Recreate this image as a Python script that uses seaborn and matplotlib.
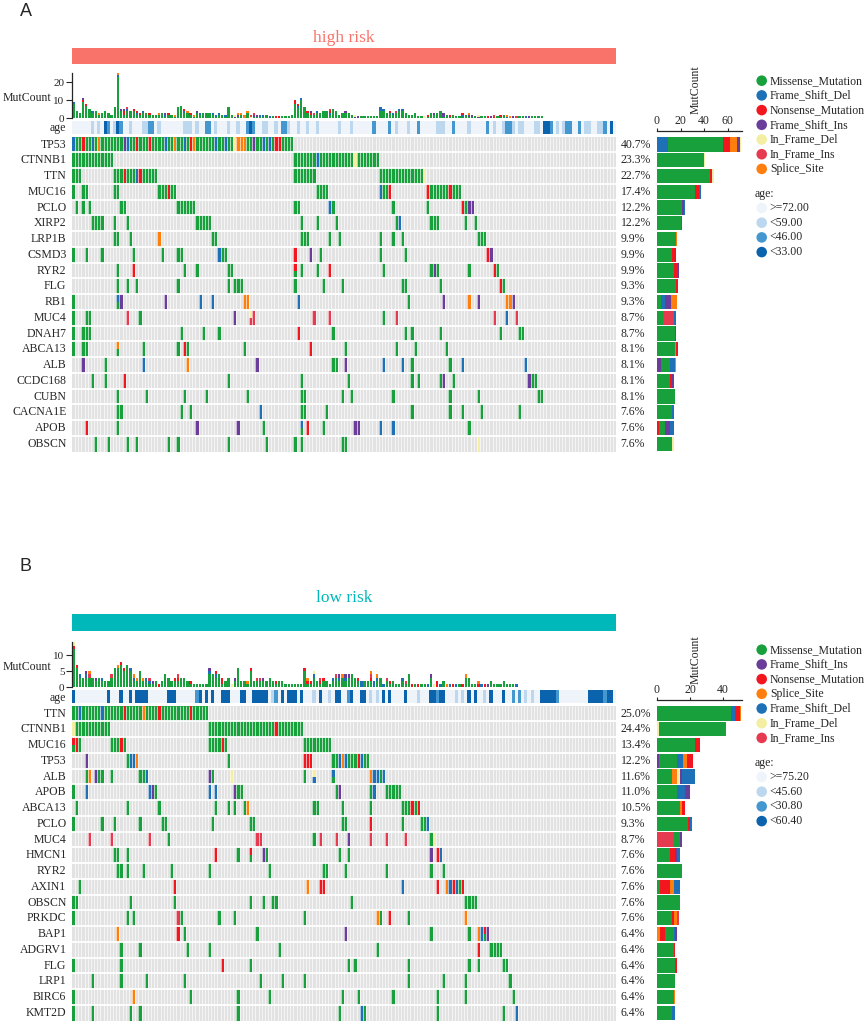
import numpy as np
import matplotlib
matplotlib.use('Agg')
import matplotlib.pyplot as plt
from matplotlib.colors import ListedColormap
from matplotlib.patches import Rectangle
import seaborn as sns

W, H = 865, 1021
N_SAMPLES = 172

# mutation type codes used in the cell strings below
TYPE_NAMES = {'M': 'Missense_Mutation', 'D': 'Frame_Shift_Del', 'N': 'Nonsense_Mutation',
              'I': 'Frame_Shift_Ins', 'd': 'In_Frame_Del', 'i': 'In_Frame_Ins', 'S': 'Splice_Site'}
TYPE_COLORS = {'M': '#18a03c', 'D': '#1f71b7', 'N': '#f2161f', 'I': '#6a3d9a',
               'd': '#f3eea1', 'i': '#e63a50', 'S': '#ff7f0e'}
TYPE_ORDER = 'MDNIdiS'
GRAY = '#e2e2e2'
AGE_COLORS = ['#eef4fa', '#bdd7ee', '#4597d0', '#0b63ad']

# ---------------- high risk ----------------
HR_GENES = ['TP53', 'CTNNB1', 'TTN', 'MUC16', 'PCLO', 'XIRP2', 'LRP1B', 'CSMD3', 'RYR2', 'FLG',
            'RB1', 'MUC4', 'DNAH7', 'ABCA13', 'ALB', 'CCDC168', 'CUBN', 'CACNA1E', 'APOB', 'OBSCN']
# "a-b" = missense range, "12N" = sample 12 of that type, "14DM" = split cell (top/bottom)
HR_CELLS = [
    '0-69 0D 3N 6D 8S 16I 17D 20N 24N 29D 32S 35D 37N 38S 45D 48D 51d 52S 53S 54S 57I 60D 62D 64N 65N',
    '0-12 70-96 77D 89d',
    '0-2 13-26 70-76 97-111 16N 20D 21N 111d',
    '0 3-4 13-14 27-32 77-80 97-100 112-122 30N 97D 100N 112N 119N',
    '1 3 5 15-16 33-38 70-71 81-82 101 112 123-126 81D 123N 125I 126I',
    '6-9 13 17 39-43 72 77 83 102-103 113-115 124 127 103D',
    '13-14 18 27S 44-45 72-74 81 84 97 101 104 128-130',
    '0 4 9 19 28 33-34 46-48 70N 75I 78 97 105 131N 132I 46D',
    '14 19N 35 39 49-50 70NM 72 77 81N 98 113-115 114I 125 133N 134',
    '14 17 20 33 49 51-53 70 79 85 104-105 116 135N 136',
    '0 14DM 15I 29I 40D 44D 54S 55S 71D 106 117I 125S 128I 137S 138S 139I',
    '0 4-5 17i 21 51I 56di 57i 76i 81i 98 102i 133i 137D 140i',
    '0 3-5 34 41 46 71N 82 105 107 116 135 141-142',
    '0 3-4 14SM 22 33 35N 36 54 75N 86 102 108 118',
    '3I 10 22D 36S 58I 82-83 86I 98D 104D 107 119 123D 143D',
    '6 10 16N 49 72 87 107 109 116 117I 120 144I 145-146',
    '14 23 35 42 55 72-73 85 88 101 119 128 147-148',
    '14-15 34 37 59D 72-73 80 107 119 123 129 141',
    '4N 14 39I 52I 60 72DM 74N 79 89I 90I 97D 101D 125',
    '7 11 17 20 30 33 49 61 70 72 85-86 128d',
]
HR_GENE_BARS = ['D9 M47 N6 S6 I2 d1', 'M40 d1', 'M45 N2 d1', 'M32 N4 D1', 'M21 I2 D1',
                'M20 D1', 'M16 S1', 'M13 N2 I1', 'M14 N4 I1', 'M16 N2',
                'M3 D4 I5 S5', 'M5 i9 D2', 'M15 N1', 'M15 S1 N2', 'I3 M8 D4 S1',
                'M11 N2 I1', 'M15', 'M13 D1', 'N2 M5 I4 D3', 'M13 d1']
HR_MUTCOUNT = [9, 4, 3, 11, 8, 5, 4, 4, 3, 3,
               4, 3, 2, 6, 25, 5, 5, 6, 4, 5,
               4, 3, 4, 3, 3, 2, 2, 3, 3, 3,
               3, 2, 2, 6, 7, 5, 4, 3, 2, 4,
               3, 3, 3, 3, 3, 2, 3, 2, 2, 6,
               2, 2, 3, 3, 2, 4, 2, 3, 2, 2,
               2, 2, 1, 1, 1, 1, 1, 1, 1, 2,
               10, 8, 11, 6, 4, 4, 3, 4, 3, 4,
               4, 5, 5, 4, 2, 3, 4, 3, 2, 2,
               1, 1, 1, 1, 1, 1, 1, 6, 5, 3,
               4, 3, 4, 5, 5, 3, 2, 2, 3, 1,
               1, 1, 2, 3, 3, 3, 4, 3, 2, 2,
               2, 1, 1, 3, 2, 3, 2, 1, 2, 1,
               1, 1, 1, 2, 1, 2, 2, 1, 1, 1,
               1, 1, 1, 1, 1, 1, 1, 1, 1]
HR_AGE_LIGHT = [6, 8, 13, 18, 22, 23, 27, 35, 36, 37, 39, 45, 49, 52, 60, 61, 64, 68, 71, 74, 77,
                84, 88, 102, 106, 115, 116, 117, 125, 133, 136, 139, 141, 142, 146, 147, 153, 155,
                162, 163, 166, 167]
HR_AGE_MID = [11, 15, 24, 25, 42, 43, 55, 57, 66, 67, 95, 100, 109, 120, 131, 137, 138, 151,
              156, 157, 160, 168]
HR_AGE_DARK = [10, 14, 56, 149, 150, 170]
HR_AGE_LABELS = ['>=72.00', '<59.00', '<46.00', '<33.00']
HR_LEGEND = 'MDNIdiS'

# ---------------- low risk ----------------
LR_GENES = ['TTN', 'CTNNB1', 'MUC16', 'TP53', 'ALB', 'APOB', 'ABCA13', 'PCLO', 'MUC4', 'HMCN1',
            'RYR2', 'AXIN1', 'OBSCN', 'PRKDC', 'BAP1', 'ADGRV1', 'FLG', 'LRP1', 'BIRC6', 'KMT2D']
LR_CELLS = [
    '0-42 2D 9D 16N 22S 27N 37N',
    '0-11 43-72 0d 64N',
    '0-2 12-16 43-48 73-81 0NM 1N 15N 47N',
    '4I 17 18D 19D 20S 49 73N 74N 75N 82-93 84D 85S 86D 90N 91D',
    '4 5S 7I 8 9 12 21 22 23D 43I 44 50d 73 76dD 82DM 94S 95D 96D 97 98D',
    '0 4D 24D 25I 26 43D 45D 51I 52-53 83 84I 94 95D 99-103',
    '1 17 27 45 49 51 54 55S 76-77 85 94 104-109 107N 109N',
    '0 9 13 21 28-29 44 56-57 85-86 94N 104 110-111 112D',
    '5i 12i 24i 30 58i 59i 76 78i 83i 87I 94i 99i 105i 113 114d',
    '13-14 17 45N 52 56NM 60I 61 84 87 113I 115N 116D',
    '14-15 17 22 31 43 62 79-80 86 99 113 117',
    '2 32N 74S 78N 79N 104D 115N 118S 119D 120N 121D 122 123N',
    '0-1 18 32 56 60 63-64 88 124-127',
    '0 17 19 33i 34 46 51 73 96S 97 100N 106 124S',
    '14S 33N 35 58 86I 113 125 128S 129D 130NM 131I',
    '15 21 36 43 65 96 128N 132-135',
    '0 15 47N 56 87 89 106 125 128 136-137',
    '6 15 23 35 59 66 73 106 117 124 138',
    '0 19S 37 52 62 85 90 101 115 124 139',
    '0 6 18 21 52 84 91D 92 115 136 140D',
]
LR_GENE_BARS = ['M45 D2 N3 S1', 'd1 M40 i1', 'M23 N3', 'I1 M11 D4 S2 N4', 'M9 S3 d2 I1 D8',
                'M12 D5 I3', 'M14 S1 N2', 'M19 N1 D1', 'i10 M4 I1', 'M8 N3 I1 D2',
                'M15', 'M2 N6 S2 D4', 'M14', 'M9 N1 S2 i1', 'S2 N3 M5 D1 I1',
                'M10 N1', 'M11 N1', 'M11', 'M10 S1', 'M9 D2']
LR_MUTCOUNT = [14, 7, 4, 3, 5, 5, 3, 3, 3, 3,
               2, 2, 4, 6, 7, 8, 6, 7, 6, 4,
               3, 5, 3, 3, 3, 2, 2, 1, 2, 4,
               3, 2, 3, 4, 3, 3, 2, 2, 1, 1,
               1, 1, 1, 6, 4, 5, 4, 3, 2, 3,
               1, 3, 6, 2, 2, 2, 6, 2, 3, 3,
               3, 2, 3, 2, 2, 2, 2, 1, 1, 1,
               1, 1, 1, 6, 3, 2, 5, 2, 3, 3,
               2, 1, 3, 4, 4, 4, 4, 4, 4, 3,
               3, 2, 2, 2, 5, 2, 4, 3, 1, 3,
               2, 2, 1, 1, 3, 2, 4, 1, 1, 1,
               1, 1, 1, 4, 1, 2, 1, 2, 1, 1,
               1, 1, 1, 1, 4, 3, 1, 1, 2, 1,
               1, 1, 2, 1, 1, 1, 2, 1, 1, 1,
               1]
LR_AGE_LIGHT = [63, 76, 81, 94, 96, 109, 121, 123, 130, 143, 145]
LR_AGE_MID = [39, 64, 87, 115, 139, 141, 153, 168]
LR_AGE_DARK = [0, 11, 15, 18, 20, 21, 22, 23, 30, 31, 32, 40, 42, 44, 47, 48, 49, 53, 54, 57,
               58, 59, 60, 61, 66, 68, 69, 70, 72, 78, 83, 84, 88, 91, 92, 98, 100, 105, 113,
               114, 116, 117, 125, 127, 132, 136, 148, 149, 150, 151, 152, 163, 164, 165, 166,
               167, 169, 170]
LR_AGE_LABELS = ['>=75.20', '<45.60', '<30.80', '<60.40']
LR_LEGEND = 'MINSDdi'


def parse_cells(spec):
    cells = {}
    for tok in spec.split():
        if '-' in tok:
            a, b = tok.split('-')
            for c in range(int(a), int(b) + 1):
                cells[c] = 'M'
        else:
            num = ''.join(ch for ch in tok if ch.isdigit())
            cells[int(num)] = tok[len(num):] or 'M'
    return cells


def box(x0, y0, x1, y1):
    return [x0 / W, 1 - y1 / H, (x1 - x0) / W, (y1 - y0) / H]


sns.set_style('white')
plt.rcParams['font.family'] = ['Liberation Serif', 'DejaVu Serif']
FS = 8.5

fig = plt.figure(figsize=(W / 100, H / 100), dpi=100)
ov = fig.add_axes([0, 0, 1, 1], zorder=10)
ov.set_xlim(0, W)
ov.set_ylim(H, 0)
ov.axis('off')

type_cmap = ListedColormap([GRAY] + [TYPE_COLORS[t] for t in TYPE_ORDER])
age_cmap = ListedColormap(AGE_COLORS)


def draw_panel(dy, letter_y, title_y, bar_y, letter, title, title_color, genes, cells_spec,
               gene_bars, mutcount, age_groups, age_labels, legend, bar_xmax, bar_ticks,
               count_ticks):
    parsed = [parse_cells(s) for s in cells_spec]
    n_genes = len(genes)

    # letter, title and coloured group bar
    ov.text(25.5, letter_y, letter, fontsize=13, family='Liberation Sans', ha='center', va='center')
    ov.add_patch(Rectangle((72, bar_y), 544, 16.5, color=title_color, lw=0))
    ov.text(344, title_y, title, ha='center', va='baseline', fontsize=12.5, color=title_color)

    # top MutCount stacked bars
    total = np.zeros(N_SAMPLES)
    total[:len(mutcount)] = mutcount
    others = {t: np.zeros(N_SAMPLES) for t in TYPE_ORDER[1:]}
    for cells in parsed:
        for c, letters in cells.items():
            for ch in letters:
                if ch != 'M':
                    others[ch][c] += 1
    other_sum = sum(others.values())
    miss = np.clip(total - other_sum, 0, None)
    x = np.arange(N_SAMPLES) + 0.5
    ax_c = fig.add_axes(box(72, 73.3 + dy, 616, 118.3 + dy))
    ax_c.bar(x, miss, width=0.72, color=TYPE_COLORS['M'], lw=0)
    bottom = miss.copy()
    for t in TYPE_ORDER[1:]:
        ax_c.bar(x, others[t], bottom=bottom, width=0.72, color=TYPE_COLORS[t], lw=0)
        bottom += others[t]
    ax_c.set_xlim(0, N_SAMPLES)
    ax_c.set_ylim(0, max(mutcount))
    ax_c.set_xticks([])
    ax_c.set_yticks(count_ticks)
    ax_c.tick_params(axis='y', labelsize=8, length=4, width=0.8, pad=1.5, left=True)
    sns.despine(ax=ax_c, bottom=True)
    ax_c.spines['left'].set_linewidth(0.9)
    ov.text(51, 98.3 + dy, 'MutCount', ha='right', va='center', fontsize=FS)

    # age row
    age = np.zeros(N_SAMPLES, dtype=int)
    for k, idx in enumerate(age_groups, start=1):
        age[idx] = k
    ax_a = fig.add_axes(box(72, 120.7 + dy, 616, 134.0 + dy))
    sns.heatmap(age.reshape(1, -1), ax=ax_a, cmap=age_cmap, vmin=-0.5, vmax=3.5, cbar=False,
                xticklabels=False, yticklabels=False)
    ov.text(66.5, 128.5 + dy, 'age', ha='right', va='center', fontsize=FS)

    # oncoprint matrix
    codes = np.zeros((n_genes, N_SAMPLES))
    ax_m = fig.add_axes(box(72, 136.7 + dy, 616, 451.7 + dy))
    for r, cells in enumerate(parsed):
        for c, letters in cells.items():
            codes[r, c] = TYPE_ORDER.index(letters[-1]) + 1
    sns.heatmap(codes, ax=ax_m, cmap=type_cmap, vmin=-0.5, vmax=7.5, cbar=False,
                xticklabels=False, yticklabels=genes)
    for r, cells in enumerate(parsed):
        for c, letters in cells.items():
            if len(letters) == 2:
                ax_m.add_patch(Rectangle((c, r), 1, 0.5, color=TYPE_COLORS[letters[0]], lw=0))
    ax_m.vlines(np.arange(1, N_SAMPLES), 0, n_genes, color='white', lw=0.45)
    ax_m.hlines(np.arange(1, n_genes), 0, N_SAMPLES, color='white', lw=1.3)
    ax_m.set_xlim(0, N_SAMPLES)
    ax_m.set_ylim(n_genes, 0)
    ax_m.set_yticks(np.arange(n_genes) + 0.5)
    ax_m.set_yticklabels(genes, rotation=0, fontsize=FS)
    ax_m.tick_params(axis='y', length=0, pad=4)
    for r, cells in enumerate(parsed):
        pct = f'{len(cells) / N_SAMPLES * 100:.1f}%'
        ax_m.text(N_SAMPLES + 1.45, r + 0.5, pct, ha='left', va='center', fontsize=FS,
                  clip_on=False)

    # right side bars per gene
    ax_g = fig.add_axes(box(657, 136.7 + dy, 741.7, 451.7 + dy))
    for r, spec in enumerate(gene_bars):
        left = 0
        for tok in spec.split():
            t, n = tok[0], int(tok[1:])
            ax_g.barh(r + 0.5, n, left=left, height=0.9, color=TYPE_COLORS[t], lw=0)
            left += n
    ax_g.set_ylim(n_genes, 0)
    ax_g.set_xlim(0, bar_xmax)
    ax_g.set_yticks([])
    ax_g.set_xticks(bar_ticks)
    ax_g.xaxis.tick_top()
    ax_g.tick_params(axis='x', labelsize=FS, length=2.5, width=0.8, pad=0.8)
    sns.despine(ax=ax_g, top=False, bottom=True, left=True)
    ax_g.spines['top'].set_position(('outward', 4))
    ax_g.spines['top'].set_linewidth(0.9)
    ov.text(695.5, 114.5 + dy, 'MutCount', rotation=90, ha='center', va='bottom', fontsize=FS)

    # legends
    for k, t in enumerate(legend):
        yy = 80.7 + dy + 14.7 * k
        ov.scatter([761.7], [yy], s=58, color=TYPE_COLORS[t], edgecolor='none')
        ov.text(770, yy, TYPE_NAMES[t], ha='left', va='center', fontsize=FS)
    ov.text(755, 194 + dy, 'age:', ha='left', va='center', fontsize=FS)
    for k, lab in enumerate(age_labels):
        yy = 208 + dy + 14.7 * k
        ov.scatter([761.7], [yy], s=58, color=AGE_COLORS[k], edgecolor='none')
        ov.text(769, yy, lab, ha='left', va='center', fontsize=FS)


draw_panel(0, 11.7, 41.5, 48, 'A', 'high risk', '#f9736a', HR_GENES, HR_CELLS, HR_GENE_BARS,
           HR_MUTCOUNT, [HR_AGE_LIGHT, HR_AGE_MID, HR_AGE_DARK], HR_AGE_LABELS, HR_LEGEND,
           71.8, [0, 20, 40, 60], [0, 10, 20])
draw_panel(569, 566.3, 602.3, 614.3, 'B', 'low risk', '#00b8ba', LR_GENES, LR_CELLS,
           LR_GENE_BARS, LR_MUTCOUNT, [LR_AGE_LIGHT, LR_AGE_MID, LR_AGE_DARK], LR_AGE_LABELS,
           LR_LEGEND, 51.2, [0, 20, 40], [0, 5, 10])

fig.savefig('out.png', dpi=100)
